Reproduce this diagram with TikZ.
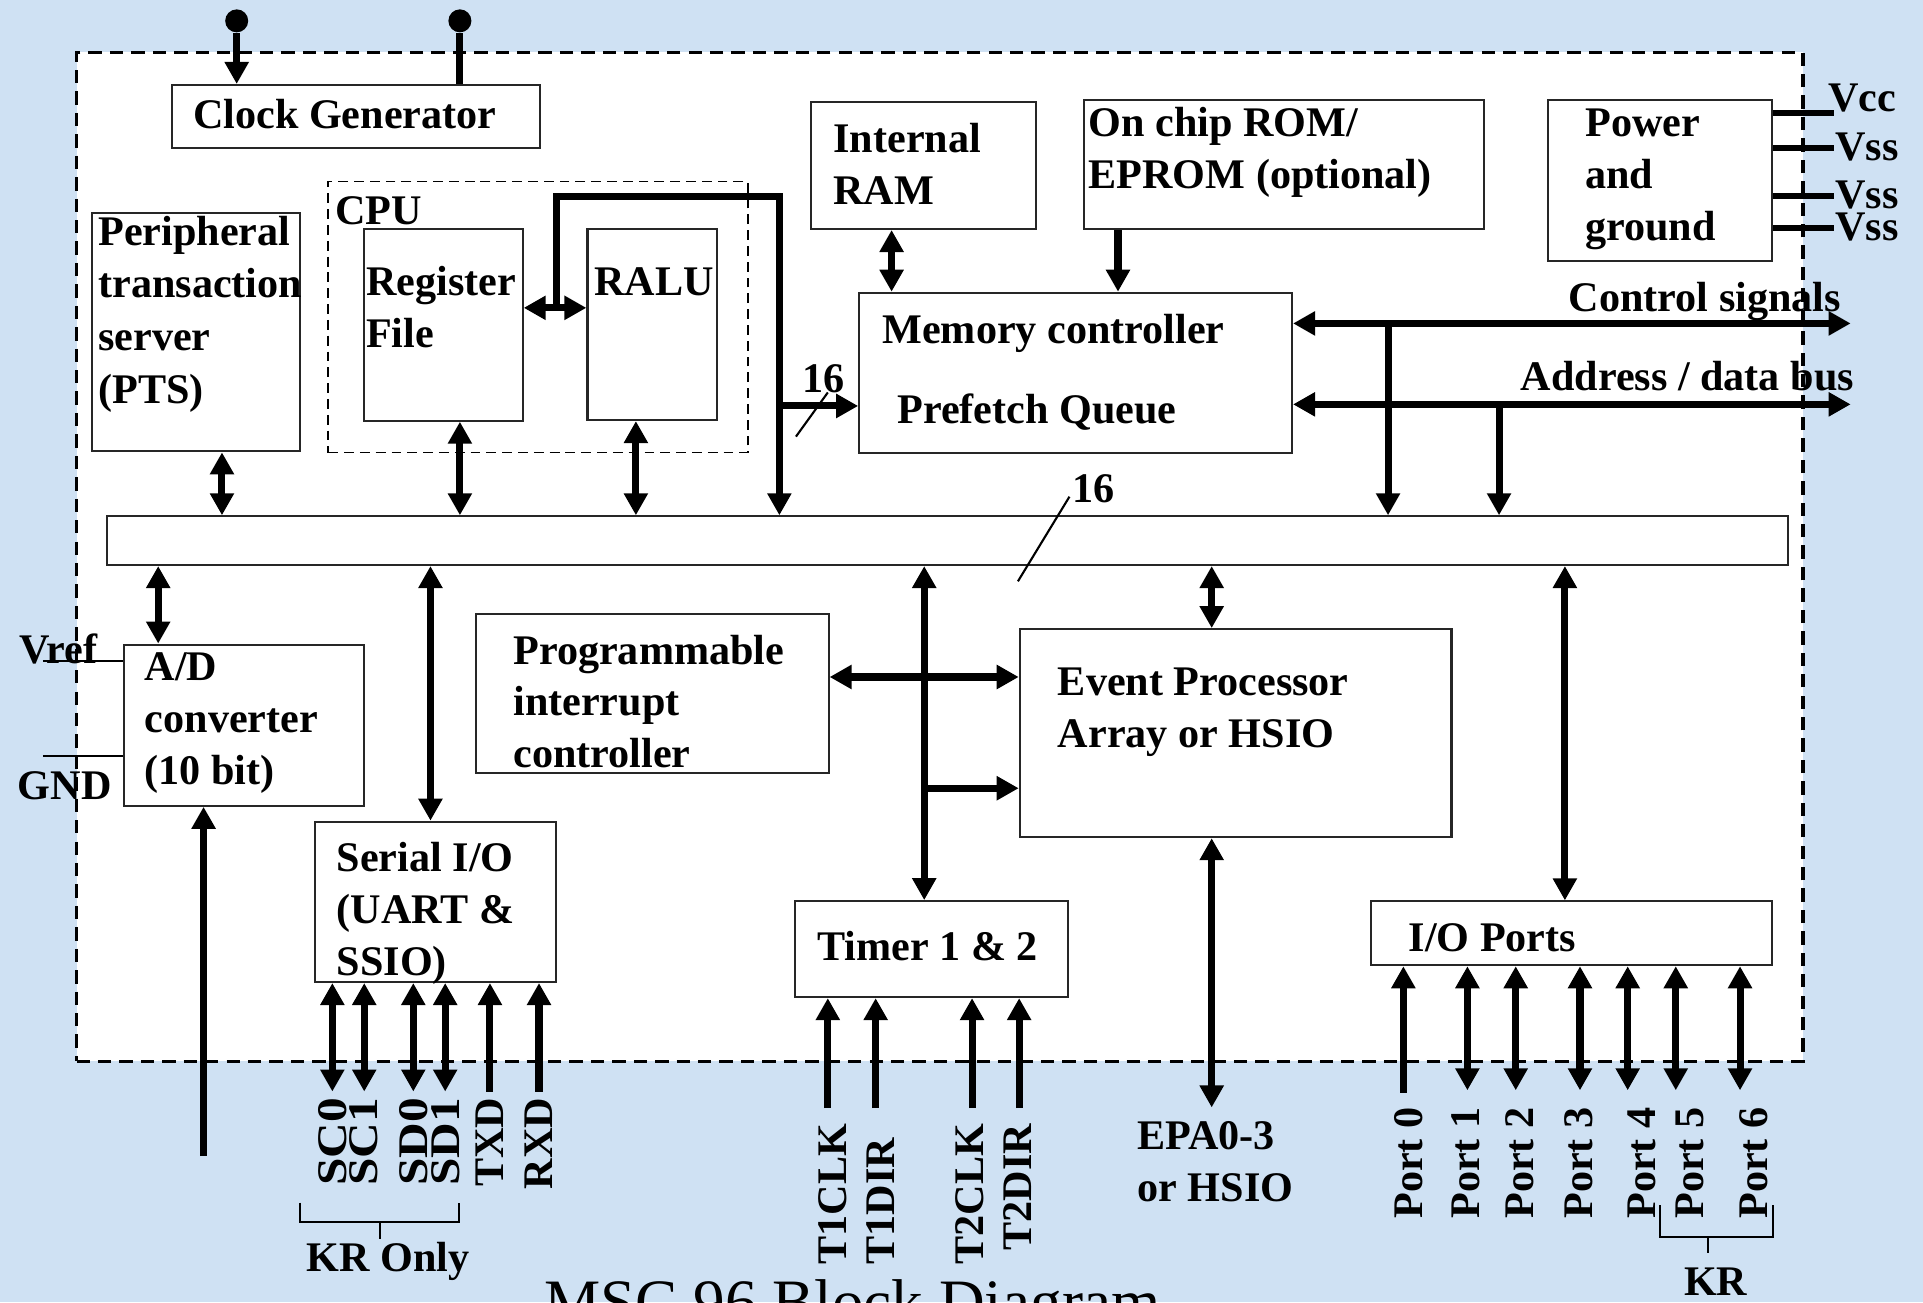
\documentclass[tikz,border=0pt]{standalone}
\usepackage{fontspec}
\setmainfont{Liberation Serif}
\usepackage{tikz}
\usetikzlibrary{arrows.meta,positioning,fit,calc}
\definecolor{paleblue}{RGB}{207,225,243}

\begin{document}
\begin{tikzpicture}[x=0.012264cm, y=-0.012264cm,
    blk/.style={draw=black!85, line width=0.6pt, fill=white, inner sep=0pt},
    lbl/.style={font=\bfseries\fontsize{12}{14.8}\selectfont, inner sep=0pt, anchor=base west, align=left},
    pinlbl/.style={font=\bfseries\fontsize{12}{14.8}\selectfont, inner sep=0pt, rotate=90},
    fat/.style={line width=2pt},
    one/.style={fat, -{Triangle[length=0.22cm,width=0.23cm]}},
    two/.style={fat, {Triangle[length=0.22cm,width=0.23cm]}-{Triangle[length=0.22cm,width=0.23cm]}},
    thin/.style={line width=0.6pt},
    pwrl/.style={line width=1.7pt},
    dot/.style={circle, fill, inner sep=0pt, minimum size=0.23cm}]

    % background and chip outline
    \fill[paleblue] (0,0) rectangle (1568,1062);
    \useasboundingbox (0,0) rectangle (1568,1062);
    \node[draw, fill=white, inner sep=0pt, line width=1pt, dash pattern=on 3.8pt off 2.3pt,
          fit={(62.4,42.7) (1470,865.5)}] (chip) {};
    \node[font=\fontsize{18}{22}\selectfont, anchor=base west, inner sep=0pt] (title) at (443,1079.5) {MSC 96 Block Diagram};

    % blocks
    \node[blk, fit={(140,69.3) (440,121)}] (clk) {};
    \node[blk, fit={(74.8,173.4) (244.6,368)}] (pts) {};
    \node[draw, inner sep=0pt, line width=0.5pt, dash pattern=on 2.8pt off 1.7pt,
          fit={(267.7,148) (610,369)}] (cpu) {};
    \node[blk, fit={(296.6,187) (426.2,343)}] (reg) {};
    \node[blk, fit={(479,186.7) (584.5,342.5)}] (ralu) {};
    \node[blk, fit={(661.5,83) (844.4,186.7)}] (ram) {};
    \node[blk, fit={(884,81.5) (1210,186.7)}] (rom) {};
    \node[blk, fit={(1262,81.5) (1445,212.8)}] (pwr) {};
    \node[blk, fit={(700.6,238.7) (1053.5,369)}] (mc) {};
    \node[blk, fit={(87.5,421) (1458,460.7)}] (bus) {};
    \node[blk, fit={(101,525.6) (297,657)}] (adc) {};
    \node[blk, fit={(257,670) (453.5,800.7)}] (sio) {};
    \node[blk, fit={(388,500.4) (675.6,630)}] (pic) {};
    \node[blk, fit={(831.5,513) (1183.5,682.6)}] (epa) {};
    \node[blk, fit={(648,734.8) (871,813)}] (tmr) {};
    \node[blk, fit={(1118,735) (1445,787)}] (iop) {};

    % texts (multi-line ones sit on their last line)
    \node[lbl] (clkt) at (157,104.5) {Clock Generator};
    \node[lbl, font=\bfseries\fontsize{12}{15}\selectfont] (ptst) at (79.6,328.9) {Peripheral\\transaction\\server\\(PTS)};
    \node[lbl] (cput) at (273,182.7) {CPU};
    \node[lbl] (regt) at (298,283) {Register\\File};
    \node[lbl] (ralut) at (484,241.3) {RALU};
    \node[lbl] (ramt) at (679,166.6) {Internal\\RAM};
    \node[lbl] (romt) at (887,153.6) {On chip ROM/\\EPROM (optional)};
    \node[lbl] (pwrt) at (1292,196.2) {Power\\and\\ground};
    \node[lbl] (mct1) at (718.9,280) {Memory controller};
    \node[lbl] (mct2) at (731.2,345.2) {Prefetch Queue};
    \node[lbl] (ctlt) at (1278.6,254) {Control signals};
    \node[lbl] (adrt) at (1239.5,318.6) {Address / data bus};
    \node[lbl] (wa) at (654,320) {16};
    \node[lbl] (wb) at (874,410) {16};
    \node[lbl] (vcc) at (1490,91) {Vcc};
    \node[lbl] (vssa) at (1496,130.5) {Vss};
    \node[lbl] (vssb) at (1496,170) {Vss};
    \node[lbl] (vssc) at (1496,196) {Vss};
    \node[lbl] (adct) at (117.5,639.7) {A/D\\converter\\(10 bit)};
    \node[lbl] (vref) at (15,541) {Vref};
    \node[lbl] (gnd) at (14,652) {GND};
    \node[lbl] (pict) at (418,626.2) {Programmable\\interrupt\\controller};
    \node[lbl] (epat) at (862,609.6) {Event Processor\\Array or HSIO};
    \node[lbl] (siot) at (274,795.2) {Serial I/O\\(UART \&\\SSIO)};
    \node[lbl] (tmrt) at (666,783) {Timer 1 \& 2};
    \node[lbl] (iopt) at (1148,776) {I/O Ports};
    \node[lbl] (epaio) at (927,979.5) {EPA0-3\\or HSIO};
    \node[lbl] (kronly) at (249.7,1037) {KR Only};
    \node[lbl] (kr) at (1372.6,1056) {KR};

    % clock pins
    \node[dot] (cka) at (193,17) {};
    \node[dot] (ckb) at (375,17) {};
    \draw[one] (cka) -- (cka |- clk.north);
    \draw[fat] (ckb) -- (ckb |- clk.north);

    % cpu side
    \draw[two] (181,0 |- pts.south) -- (181,0 |- bus.north);
    \draw[two] (375,0 |- reg.south) -- (375,0 |- bus.north);
    \draw[two] (518.5,0 |- ralu.south) -- (518.5,0 |- bus.north);
    \draw[two] (reg.east |- 0,251) -- (ralu.west |- 0,251);
    \draw[one] (453.5,251) -- (453.5,160.5) -- (635.5,160.5) -- (635.5,0 |- bus.north);
    \draw[one] (635.5,331) -- (mc.west |- 0,331);
    \draw[thin] (649,356) -- (675,320);

    % memory side
    \draw[two] (727,0 |- ram.south) -- (727,0 |- mc.north);
    \draw[one] (911.6,0 |- rom.south) -- (911.6,0 |- mc.north);
    \coordinate (pa) at (1495,92);
    \coordinate (pb) at (1495,121);
    \coordinate (pc) at (1495,160);
    \coordinate (pd) at (1495,186);
    \draw[pwrl] (pwr.east |- pa) -- (pa);
    \draw[pwrl] (pwr.east |- pb) -- (pb);
    \draw[pwrl] (pwr.east |- pc) -- (pc);
    \draw[pwrl] (pwr.east |- pd) -- (pd);
    \coordinate (ctlend) at (1509,263.7);
    \coordinate (adrend) at (1509,329.7);
    \draw[two] (mc.east |- ctlend) -- (ctlend);
    \draw[two] (mc.east |- adrend) -- (adrend);
    \draw[one] (1131.8,263.7) -- (1131.8,0 |- bus.north);
    \draw[one] (1222.3,329.7) -- (1222.3,0 |- bus.north);
    \draw[thin] (830,474) -- (872,405);

    % A/D
    \draw[two] (129,0 |- bus.south) -- (129,0 |- adc.north);
    \draw[thin] (35,539) -- (adc.west |- 0,539);
    \draw[thin] (35,616.5) -- (adc.west |- 0,616.5);
    \coordinate (adin) at (166,942.6);
    \draw[one] (adin) -- (adin |- adc.south);

    % serial I/O
    \draw[two] (351,0 |- bus.south) -- (351,0 |- sio.north);
    \draw[two] (271,0 |- sio.south) -- (271,890);
    \draw[two] (297,0 |- sio.south) -- (297,890);
    \draw[two] (337,0 |- sio.south) -- (337,890);
    \draw[two] (363,0 |- sio.south) -- (363,890);
    \draw[one] (399.5,890) -- (399.5,0 |- sio.south);
    \draw[one] (439.5,890) -- (439.5,0 |- sio.south);
    \node[pinlbl, anchor=east] (sca) at (271,894.6) {\scalebox{1.17}[1]{SC0}};
    \node[pinlbl, anchor=east] (scb) at (297,894.6) {\scalebox{1.17}[1]{SC1}};
    \node[pinlbl, anchor=east] (sda) at (337,894.6) {\scalebox{1.17}[1]{SD0}};
    \node[pinlbl, anchor=east] (sdb) at (363.6,894.6) {\scalebox{1.17}[1]{SD1}};
    \node[pinlbl, anchor=east] (txd) at (399.5,894.6) {TXD};
    \node[pinlbl, anchor=east] (rxd) at (439.5,894.6) {RXD};
    \draw[thin] (244.7,980.6) -- (244.7,996.5) -- (374.5,996.5) -- (374.5,980.6)
                (309.6,996.5) -- (309.6,1009.9);

    % interrupt, timers, EPA
    \draw[two] (pic.east |- 0,552) -- (epa.west |- 0,552);
    \draw[two] (753.6,0 |- bus.south) -- (753.6,0 |- tmr.north);
    \draw[one] (753.6,642.7) -- (epa.west |- 0,642.7);
    \draw[two] (988,0 |- bus.south) -- (988,0 |- epa.north);
    \coordinate (epaend) at (988,903);
    \draw[two] (epaend |- epa.south) -- (epaend);
    \draw[one] (675,903.5) -- (675,0 |- tmr.south);
    \draw[one] (714,903.5) -- (714,0 |- tmr.south);
    \draw[one] (792.6,903.5) -- (792.6,0 |- tmr.south);
    \draw[one] (831,903.5) -- (831,0 |- tmr.south);
    \node[pinlbl, anchor=west] (tca) at (678.7,1031.5) {T1CLK};
    \node[pinlbl, anchor=west] (tda) at (718,1031.5) {T1DIR};
    \node[pinlbl, anchor=west] (tcb) at (791,1031.5) {T2CLK};
    \node[pinlbl, anchor=east] (tdb) at (830,916) {T2DIR};

    % I/O ports
    \draw[two] (1276,0 |- bus.south) -- (1276,0 |- iop.north);
    \draw[one] (1144.3,891) -- (1144.3,0 |- iop.south);
    \draw[two] (1196.5,0 |- iop.south) -- (1196.5,889);
    \draw[two] (1235.9,0 |- iop.south) -- (1235.9,889);
    \draw[two] (1288.3,0 |- iop.south) -- (1288.3,889);
    \draw[two] (1327.2,0 |- iop.south) -- (1327.2,889);
    \draw[two] (1366.4,0 |- iop.south) -- (1366.4,889);
    \draw[two] (1418.8,0 |- iop.south) -- (1418.8,889);
    \node[pinlbl, anchor=east] (pt0) at (1148.6,902.4) {Port 0};
    \node[pinlbl, anchor=east] (pt1) at (1194.8,902.4) {Port 1};
    \node[pinlbl, anchor=east] (pt2) at (1239.4,902.4) {Port 2};
    \node[pinlbl, anchor=east] (pt3) at (1287,902.4) {Port 3};
    \node[pinlbl, anchor=east] (pt4) at (1338.6,902.4) {Port 4};
    \node[pinlbl, anchor=east] (pt5) at (1378,902.4) {Port 5};
    \node[pinlbl, anchor=east] (pt6) at (1429.7,902.4) {Port 6};
    \draw[thin] (1353.6,982.6) -- (1353.6,1008.4) -- (1445.4,1008.4) -- (1445.4,982.6)
                (1393,1008.4) -- (1393,1022);
\end{tikzpicture}
\end{document}
